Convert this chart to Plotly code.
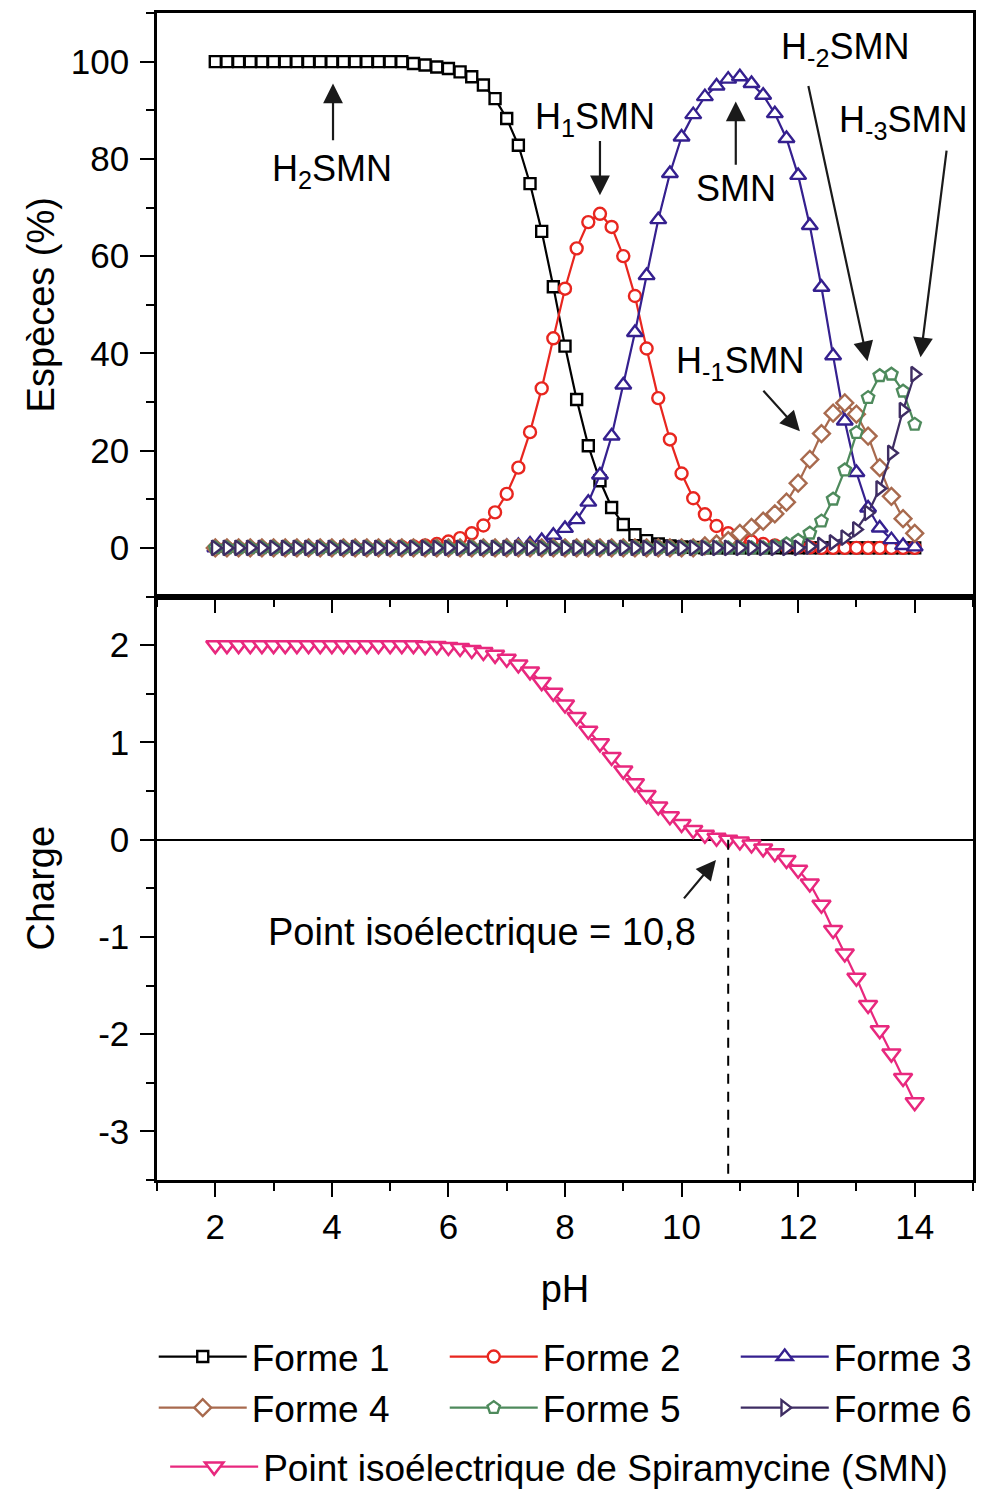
import plotly.graph_objects as go
from plotly.subplots import make_subplots

pH = [2.0, 2.2, 2.4, 2.6, 2.8, 3.0, 3.2, 3.4, 3.6, 3.8,
      4.0, 4.2, 4.4, 4.6, 4.8, 5.0, 5.2, 5.4, 5.6, 5.8,
      6.0, 6.2, 6.4, 6.6, 6.8, 7.0, 7.2, 7.4, 7.6, 7.8,
      8.0, 8.2, 8.4, 8.6, 8.8, 9.0, 9.2, 9.4, 9.6, 9.8,
      10.0, 10.2, 10.4, 10.6, 10.8, 11.0, 11.2, 11.4, 11.6, 11.8,
      12.0, 12.2, 12.4, 12.6, 12.8, 13.0, 13.2, 13.4, 13.6, 13.8, 14.0]

forme1 = [100]*17 + [99.6, 99.3, 98.9, 98.6, 97.9, 96.9, 95.2, 92.4, 88.3, 82.8,
                     74.9, 65.1, 53.7, 41.5, 30.5, 21.0, 13.8, 8.3, 4.8, 2.7,
                     1.5, 0.8, 0.4, 0.2, 0.1] + [0]*19
forme2 = [0]*15 + [0.1, 0.2, 0.3, 0.5, 0.8, 1.3, 2.0, 3.0, 4.6, 7.3,
                   11.1, 16.5, 23.8, 32.8, 43.1, 53.3, 61.6, 67.0, 68.7, 66.0,
                   60.0, 51.8, 41.0, 30.8, 22.3, 15.3, 10.2, 6.9, 4.5, 3.0,
                   2.0, 1.3, 0.8, 0.5, 0.3, 0.2, 0.1] + [0]*9
forme3 = [0]*25 + [0.3, 0.5, 0.8, 1.5, 2.6, 4.0, 5.8, 9.4, 15.0, 23.0,
                   33.5, 44.3, 56.0, 67.5, 77.0, 84.5, 89.1, 92.8, 95.0, 96.4,
                   96.9, 95.5, 93.1, 89.3, 84.2, 76.6, 66.3, 53.6, 39.5, 26.1,
                   15.5, 8.2, 4.1, 1.7, 0.5, 0.2]
forme4 = [0]*42 + [0.4, 0.8, 1.5, 3.0, 4.2, 5.5, 7.0, 9.4, 13.3, 18.2,
                   23.5, 27.7, 29.8, 27.5, 23.0, 16.5, 10.6, 6.0, 3.0]
forme5 = [0]*48 + [0.3, 0.8, 1.5, 3.0, 5.5, 10.0, 16.0, 23.7, 30.9, 35.4,
                   35.7, 32.2, 25.4]
forme6 = [0]*51 + [0.3, 0.6, 1.1, 2.1, 3.8, 7.2, 12.2, 19.5, 28.3, 35.7]
charge = [2.00]*18 + [1.99, 1.99, 1.98, 1.97, 1.95, 1.93, 1.90, 1.86, 1.80, 1.73,
                      1.62, 1.51, 1.39, 1.26, 1.12, 0.99, 0.85, 0.71, 0.58, 0.46,
                      0.34, 0.24, 0.16, 0.10, 0.05, 0.02, 0.00, -0.02, -0.05, -0.09,
                      -0.14, -0.21, -0.31, -0.45, -0.67, -0.93, -1.17, -1.42, -1.70, -1.96,
                      -2.20, -2.45, -2.70]

x_ticks = [2, 4, 6, 8, 10, 12, 14]
y1_ticks = [0, 20, 40, 60, 80, 100]
y2_ticks = [-3, -2, -1, 0, 1, 2]
y2_ticktext = ["-3", "-2", "-1", "0", "1", "2"]

names = ["Forme 1", "Forme 2", "Forme 3", "Forme 4", "Forme 5", "Forme 6"]
series = [forme1, forme2, forme3, forme4, forme5, forme6]
colors = ["#000000", "#E8261F", "#35208F", "#A86A4E", "#4E8A5C", "#3E2D63"]
symbols = ["square", "circle", "triangle-up", "diamond", "pentagon", "triangle-right"]
sizes = [11, 12, 14, 13, 13, 13]
pink = "#E8287E"
pI = 10.8

FONT = "Liberation Sans, Arial, sans-serif"

fig = make_subplots(rows=2, cols=1, shared_xaxes=False, vertical_spacing=0)

for nm, ys, c, s, sz in zip(names, series, colors, symbols, sizes):
    fig.add_trace(go.Scatter(
        x=pH, y=ys, name=nm, mode="lines+markers",
        line=dict(color=c, width=2.2),
        marker=dict(symbol=s, size=sz, color="white", line=dict(color=c, width=2.4)),
        legend="legend"), row=1, col=1)

fig.add_trace(go.Scatter(
    x=pH, y=charge, name="Point isoélectrique de Spiramycine (SMN)", mode="lines+markers",
    line=dict(color=pink, width=2.2),
    marker=dict(symbol="triangle-down", size=16, color="white", line=dict(color=pink, width=2.5)),
    legend="legend2"), row=2, col=1)

axis_common = dict(showline=True, linewidth=2.5, linecolor="black", mirror=True,
                   ticks="outside", ticklen=14, tickwidth=2, tickcolor="black",
                   showgrid=False, zeroline=False,
                   tickfont=dict(family=FONT, size=35, color="black"))

fig.update_xaxes(range=[1, 15], tickvals=x_ticks, ticktext=[str(v) for v in x_ticks],
                 minor=dict(dtick=1, tick0=1, ticks="outside", ticklen=8, tickwidth=2, tickcolor="black"),
                 **axis_common)
fig.update_xaxes(showticklabels=False, row=1, col=1)
fig.update_xaxes(title=dict(text="pH", font=dict(family=FONT, size=38, color="black"), standoff=31),
                 row=2, col=1)

fig.update_yaxes(range=[-10, 110], tickvals=y1_ticks, ticktext=[str(v) for v in y1_ticks],
                 minor=dict(dtick=10, tick0=0, ticks="outside", ticklen=8, tickwidth=2, tickcolor="black"),
                 title=dict(text="Espèces (%)", font=dict(family=FONT, size=38, color="black"), standoff=5),
                 ticklabelstandoff=4,
                 domain=[0.5, 1.0], row=1, col=1, **axis_common)
fig.update_yaxes(range=[-3.5, 2.5], tickvals=y2_ticks, ticktext=y2_ticktext,
                 minor=dict(dtick=0.5, tick0=0, ticks="outside", ticklen=8, tickwidth=2, tickcolor="black"),
                 title=dict(text="Charge", font=dict(family=FONT, size=38, color="black"), standoff=32),
                 ticklabelstandoff=4,
                 domain=[0.0, 0.5], row=2, col=1, **axis_common)
fig.update_yaxes(zeroline=True, zerolinecolor="black", zerolinewidth=2, row=2, col=1)

# isoelectric dashed line
fig.add_shape(type="line", xref="x2", yref="y2", x0=pI, x1=pI, y0=0, y1=-3.5,
              line=dict(color="black", width=2, dash="10px,8px"))

def label(txt, x, y, xref="x", yref="y", size=36, xanchor="center"):
    fig.add_annotation(text=txt, x=x, y=y, xref=xref, yref=yref, showarrow=False,
                       xanchor=xanchor, yanchor="middle",
                       font=dict(family=FONT, size=size, color="black"))

def arrow(x, y, ax, ay, xref="x", yref="y", head=2):
    fig.add_annotation(text="", x=x, y=y, ax=ax, ay=ay, xref=xref, yref=yref,
                       axref=xref, ayref=yref, showarrow=True, arrowhead=head,
                       arrowsize=1.8, arrowwidth=2.2, arrowcolor="#1a1a1a")

label("H<sub>2</sub>SMN", 4.0, 77.5)
arrow(4.02, 95.5, 4.02, 83.5)
label("H<sub>1</sub>SMN", 8.52, 88.3)
arrow(8.6, 72.5, 8.6, 84.0)
label("SMN", 10.93, 74.0)
arrow(10.93, 91.8, 10.93, 78.5)
label("H<sub>-2</sub>SMN", 12.8, 102.5)
arrow(13.19, 38.4, 12.17, 95.3)
label("H<sub>-3</sub>SMN", 13.8, 87.6)
arrow(14.1, 39.2, 14.55, 82.0)
label("H<sub>-1</sub>SMN", 11.0, 38.0)
arrow(12.03, 24.0, 11.38, 32.6)

label("Point isoélectrique = 10,8", 2.87, -0.95, xref="x2", yref="y2", size=38, xanchor="left")
arrow(10.59, -0.21, 10.02, -0.62, xref="x2", yref="y2")

fig.update_layout(
    width=983, height=1492,
    margin=dict(l=157, r=10, t=13, b=312, autoexpand=False),
    plot_bgcolor="white", paper_bgcolor="white",
    font=dict(family=FONT, size=36, color="black"),
    showlegend=True,
    legend=dict(orientation="h", x=-0.004, xanchor="left", y=-0.1251, yanchor="top",
                font=dict(family=FONT, size=37, color="black"),
                entrywidth=188, entrywidthmode="pixels", itemwidth=88,
                bgcolor="rgba(0,0,0,0)", traceorder="normal"),
    legend2=dict(orientation="h", x=0.01, xanchor="left", y=-0.2194, yanchor="top",
                 font=dict(family=FONT, size=37, color="black"), itemwidth=88,
                 bgcolor="rgba(0,0,0,0)"),
)

fig.write_html("out.html")
